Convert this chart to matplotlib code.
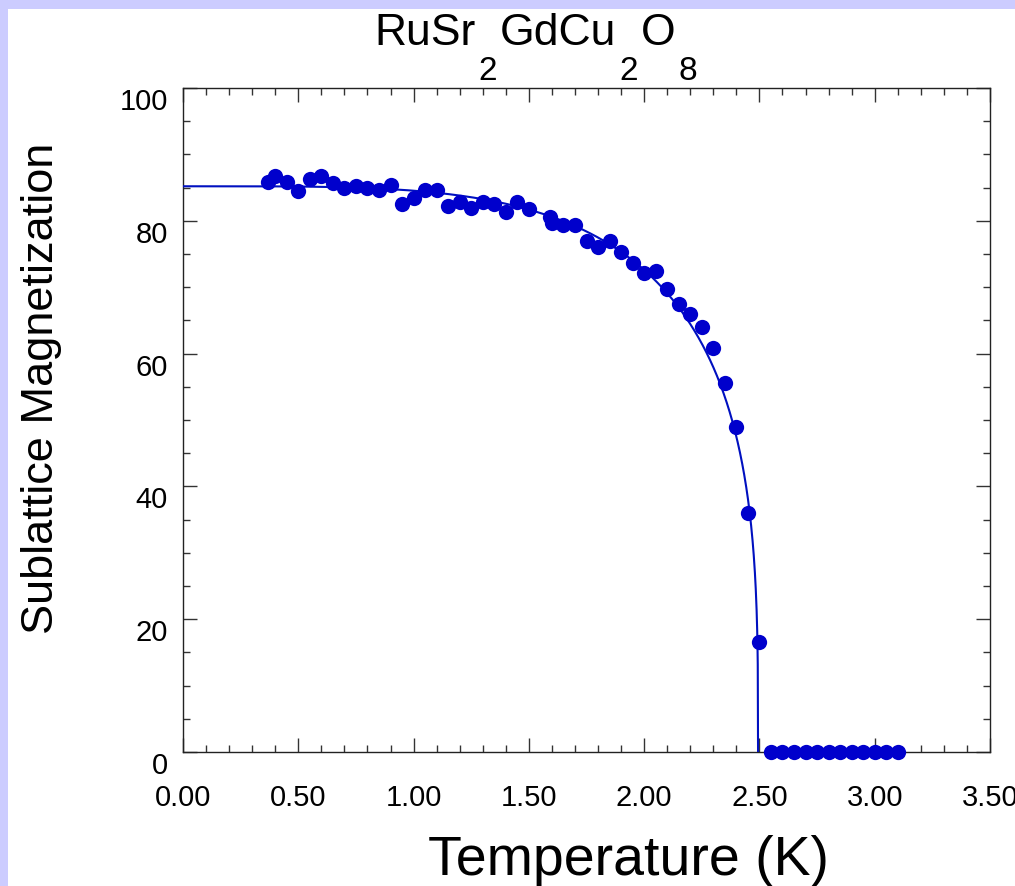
import numpy as np
import matplotlib
matplotlib.use('Agg')
import matplotlib.pyplot as plt
from matplotlib.patches import Rectangle
from matplotlib.transforms import ScaledTranslation

plt.rcParams['font.family'] = ['Liberation Sans', 'DejaVu Sans']

# measured points (T in K, sublattice magnetization)
temp = [0.37, 0.40, 0.45, 0.50, 0.55, 0.60, 0.65, 0.70, 0.75, 0.80, 0.85, 0.90,
        0.95, 1.00, 1.05, 1.10, 1.15, 1.20, 1.25, 1.30, 1.35, 1.40, 1.45, 1.50,
        1.59, 1.60, 1.65, 1.70, 1.75, 1.80, 1.85, 1.90, 1.95, 2.00, 2.05, 2.10,
        2.15, 2.20, 2.25, 2.30, 2.35, 2.40, 2.45, 2.50,
        2.55, 2.60, 2.65, 2.70, 2.75, 2.80, 2.85, 2.90, 2.95, 3.00, 3.05, 3.10]
mag = [85.9, 86.7, 85.8, 84.5, 86.3, 86.7, 85.7, 84.9, 85.2, 84.9, 84.7, 85.4,
       82.5, 83.4, 84.7, 84.7, 82.3, 82.8, 82.0, 82.9, 82.6, 81.3, 82.9, 81.8,
       80.5, 79.6, 79.3, 79.3, 76.9, 76.0, 77.0, 75.3, 73.6, 72.2, 72.5, 69.8,
       67.5, 66.0, 64.0, 60.8, 55.6, 48.9, 36.0, 16.5,
       0, 0, 0, 0, 0, 0, 0, 0, 0, 0, 0, 0]

# fit curve parameters M = M0 * (1 - (T/Tc)^a)^b
M0 = 85.2
Tc = 2.494
a_exp = 4.0
b_exp = 0.3

fig = plt.figure(figsize=(10.15, 8.87), dpi=100)
fig.patch.set_facecolor('white')
lav = '#CCCCFF'
fig.patches.append(Rectangle((0, 0), 8/1015, 1, transform=fig.transFigure,
                             facecolor=lav, edgecolor='none', zorder=0))
fig.patches.append(Rectangle((0, 1-10/887), 1, 10/887, transform=fig.transFigure,
                             facecolor=lav, edgecolor='none', zorder=0))

ax = fig.add_axes([183/1015, 1-753/887, 807/1015, 664/887])

Tfit = np.linspace(0, Tc, 2000)
Mfit = M0 * np.clip(1 - (Tfit/Tc)**a_exp, 0, None)**b_exp
Tfit = np.append(Tfit, Tc)
Mfit = np.append(Mfit, 0)
ax.plot(Tfit, Mfit, color='#0010C0', lw=1.5, zorder=3)
ax.plot(temp, mag, 'o', color='#0000CC', ms=11, mec='none', zorder=4, clip_on=False)

ax.set_xlim(0, 3.5)
ax.set_ylim(0, 100)
ax.set_xticks(np.arange(0, 3.51, 0.5))
ax.set_xticks(np.arange(0, 3.51, 0.1), minor=True)
ax.set_yticks(np.arange(0, 101, 20))
ax.set_yticks(np.arange(0, 101, 5), minor=True)
ax.set_xticklabels(['%.2f' % v for v in np.arange(0, 3.51, 0.5)])
ax.tick_params(which='both', direction='in', top=True, right=True, width=1, color='#333333')
ax.tick_params(which='major', length=10, labelsize=21)
ax.tick_params(which='minor', length=5)
ax.tick_params(axis='x', pad=22)
ax.tick_params(axis='y', pad=11)
for lab in ax.get_yticklabels():
    lab.set_transform(lab.get_transform() + ScaledTranslation(0, -0.1, fig.dpi_scale_trans))
for s in ax.spines.values():
    s.set_linewidth(1)
    s.set_color('#222222')

fig.text(628/1015, 1-875/887, 'Temperature (K)', fontsize=40, ha='center', va='baseline')
fig.text(42/1015, 1-388/887, 'Sublattice Magnetization', fontsize=32.5, rotation=90,
         ha='center', va='center')

# title with low subscripts, one piece after the other
pieces = [('RuSr', False), ('2', True), ('GdCu', False), ('2', True), ('O', False), ('8', True)]
r = fig.canvas.get_renderer()
x = 374
for txt, sub in pieces:
    if sub:
        t = fig.text(x/1015, 1-80/887, txt, fontsize=24, va='baseline', ha='left')
    else:
        t = fig.text(x/1015, 1-45/887, txt, fontsize=32, va='baseline', ha='left')
    x += t.get_window_extent(r).width + 3

fig.savefig('out.png', dpi=100)
